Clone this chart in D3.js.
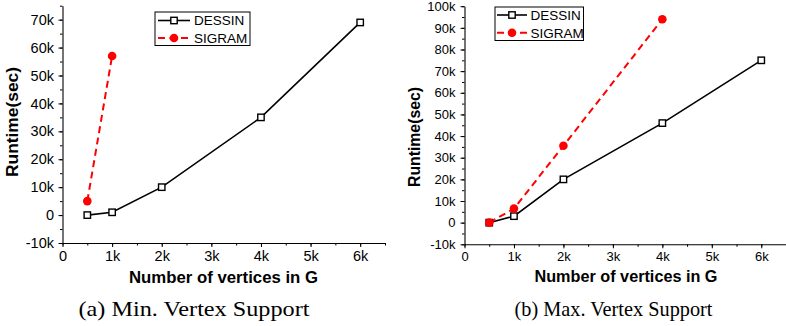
<!DOCTYPE html>
<html>
<head>
<meta charset="utf-8">
<script src="https://cdn.jsdelivr.net/npm/d3@7"></script>
<style>
  html, body { margin: 0; padding: 0; background: #fff; }
  svg { display: block; }
  text { font-family: "Liberation Sans", Arial, sans-serif; fill: #000; }
  .caption { font-family: "Liberation Serif", "Times New Roman", serif; }
</style>
</head>
<body>
<svg id="fig" width="786" height="326"></svg>
<script>
// Series names and axis labels
const seriesNames = ["DESSIN", "SIGRAM"];
const xTitle = "Number of vertices in G";
const yTitle = "Runtime(sec)";
const captions = ["(a) Min. Vertex Support", "(b) Max. Vertex Support"];

// x axis ticks (number of vertices)
const xTickValues = [0, 1000, 2000, 3000, 4000, 5000, 6000];
const xTickLabels = ["0", "1k", "2k", "3k", "4k", "5k", "6k"];

// (a) Min. Vertex Support
const dessinVerticesA = [500, 1000, 2000, 4000, 6000];
const dessinRuntimeA  = [0, 1000, 10000, 35000, 69000];
const sigramVerticesA = [500, 1000];
const sigramRuntimeA  = [5000, 57000];
const yTickValuesA = [-10000, 0, 10000, 20000, 30000, 40000, 50000, 60000, 70000];
const yTickLabelsA = ["-10k", "0", "10k", "20k", "30k", "40k", "50k", "60k", "70k"];

// (b) Max. Vertex Support
const dessinVerticesB = [500, 1000, 2000, 4000, 6000];
const dessinRuntimeB  = [0, 3000, 20000, 46000, 75000];
const sigramVerticesB = [500, 1000, 2000, 4000];
const sigramRuntimeB  = [0, 6500, 35500, 94000];
const yTickValuesB = [-10000, 0, 10000, 20000, 30000, 40000, 50000, 60000, 70000, 80000, 90000, 100000];
const yTickLabelsB = ["-10k", "0", "10k", "20k", "30k", "40k", "50k", "60k", "70k", "80k", "90k", "100k"];

const svg = d3.select("#fig");

function drawPanel(p) {
  const g = svg.append("g");
  const x = d3.scaleLinear().domain([0, 6500]).range([p.left, p.right]);
  const y = d3.scaleLinear().domain(p.yDomain).range([p.bottom, p.top]);

  const xMinor = d3.range(0, 6501, 500);
  const yMinor = d3.range(p.yDomain[0], p.yDomain[1] + 1, 5000);

  // minor ticks
  g.append("g").attr("transform", `translate(0,${p.bottom})`)
    .call(d3.axisBottom(x).tickValues(xMinor).tickSize(2.5).tickSizeOuter(0).tickFormat(""))
    .call(s => s.select(".domain").remove());
  g.append("g").attr("transform", `translate(${p.left},0)`)
    .call(d3.axisLeft(y).tickValues(yMinor).tickSize(2.5).tickSizeOuter(0).tickFormat(""))
    .call(s => s.select(".domain").remove());

  // major ticks with labels
  const xa = g.append("g").attr("transform", `translate(0,${p.bottom})`)
    .call(d3.axisBottom(x).tickValues(xTickValues).tickSize(4).tickSizeOuter(0)
      .tickFormat((d, i) => xTickLabels[i]));
  xa.attr("font-size", p.tickFont);
  xa.selectAll("text").attr("font-size", p.tickFont).attr("dy", null).attr("y", p.xLabelDy)
    .attr("font-family", "Liberation Sans").attr("fill", "#000");

  const ya = g.append("g").attr("transform", `translate(${p.left},0)`)
    .call(d3.axisLeft(y).tickValues(p.yTicks).tickSize(4).tickSizeOuter(0)
      .tickFormat((d, i) => p.yLabels[i]));
  ya.attr("font-size", p.tickFont);
  ya.selectAll("text").attr("font-size", p.tickFont).attr("x", -p.yLabelGap)
    .attr("font-family", "Liberation Sans").attr("fill", "#000");

  [xa, ya].forEach(a => {
    a.select(".domain").attr("stroke", "#000").attr("stroke-width", 1.1);
  });
  g.selectAll(".tick line").attr("stroke", "#000");

  // axis titles
  g.append("text")
    .attr("x", p.xTitleX - p.xTitleLen / 2).attr("y", p.xTitleY)
    .attr("font-size", 16).attr("font-weight", "bold")
    .attr("textLength", p.xTitleLen).attr("lengthAdjust", "spacingAndGlyphs")
    .text(xTitle);
  g.append("text")
    .attr("transform", `translate(${p.yTitleX},${p.yTitleY}) rotate(-90)`)
    .attr("x", -p.yTitleLen / 2).attr("y", 0)
    .attr("font-size", 16).attr("font-weight", "bold")
    .attr("textLength", p.yTitleLen).attr("lengthAdjust", "spacingAndGlyphs")
    .text(yTitle);

  // caption
  g.append("text").attr("class", "caption")
    .attr("x", p.capX - p.capLen / 2).attr("y", p.capY)
    .attr("font-size", 21)
    .attr("textLength", p.capLen).attr("lengthAdjust", "spacingAndGlyphs")
    .text(p.caption);

  const line = d3.line().x(d => x(d[0])).y(d => y(d[1]));

  // DESSIN: solid black with open squares
  const dData = p.dX.map((v, i) => [v, p.dY[i]]);
  g.append("path").datum(dData).attr("d", line)
    .attr("fill", "none").attr("stroke", "#000").attr("stroke-width", 1.6);
  g.selectAll(".sq").data(dData).enter().append("rect")
    .attr("x", d => x(d[0]) - 3.2).attr("y", d => y(d[1]) - 3.2)
    .attr("width", 6.4).attr("height", 6.4)
    .attr("fill", "#fff").attr("stroke", "#000").attr("stroke-width", 1.4);

  // SIGRAM: dashed red with filled circles
  const sData = p.sX.map((v, i) => [v, p.sY[i]]);
  g.append("path").datum(sData).attr("d", line)
    .attr("fill", "none").attr("stroke", "#ff0000").attr("stroke-width", 2)
    .attr("stroke-dasharray", "7,4.5");
  g.selectAll(".dot").data(sData).enter().append("circle")
    .attr("cx", d => x(d[0])).attr("cy", d => y(d[1])).attr("r", 4.3)
    .attr("fill", "#ff0000");

  // legend
  const L = p.legend;
  g.append("rect").attr("x", L.x0).attr("y", L.y0)
    .attr("width", L.x1 - L.x0).attr("height", L.y1 - L.y0)
    .attr("fill", "#fff").attr("stroke", "#000").attr("stroke-width", 1);
  // DESSIN entry
  g.append("line").attr("x1", L.lx0).attr("x2", L.lx1).attr("y1", L.r0).attr("y2", L.r0)
    .attr("stroke", "#000").attr("stroke-width", 1.6);
  g.append("rect").attr("x", (L.lx0 + L.lx1) / 2 - 3.2).attr("y", L.r0 - 3.2)
    .attr("width", 6.4).attr("height", 6.4)
    .attr("fill", "#fff").attr("stroke", "#000").attr("stroke-width", 1.4);
  g.append("text").attr("x", L.tx).attr("y", L.r0).attr("dy", "0.36em")
    .attr("font-size", L.font).text(seriesNames[0]);
  // SIGRAM entry
  g.append("line").attr("x1", L.lx0).attr("x2", L.lx1).attr("y1", L.r1).attr("y2", L.r1)
    .attr("stroke", "#ff0000").attr("stroke-width", 2).attr("stroke-dasharray", "7,4.5");
  g.append("circle").attr("cx", (L.lx0 + L.lx1) / 2).attr("cy", L.r1).attr("r", 4.3)
    .attr("fill", "#ff0000");
  g.append("text").attr("x", L.tx).attr("y", L.r1).attr("dy", "0.36em")
    .attr("font-size", L.font).text(seriesNames[1]);
}

drawPanel({
  left: 62.5, right: 385, top: 5.7, bottom: 243,
  yDomain: [-10000, 75000], yTicks: yTickValuesA, yLabels: yTickLabelsA,
  tickFont: 14.5, xLabelDy: 18, yLabelGap: 8.5,
  xTitleX: 223.5, xTitleY: 282.5, xTitleLen: 189,
  yTitleX: 18, yTitleY: 122, yTitleLen: 110,
  capX: 194, capY: 316, capLen: 231, caption: captions[0],
  dX: dessinVerticesA, dY: dessinRuntimeA, sX: sigramVerticesA, sY: sigramRuntimeA,
  legend: { x0: 155, x1: 250, y0: 12, y1: 45.5, lx0: 158, lx1: 190, tx: 194, r0: 20.5, r1: 38, font: 13.5 }
});

drawPanel({
  left: 464.5, right: 786, top: 6.2, bottom: 244.3,
  yDomain: [-10000, 100000], yTicks: yTickValuesB, yLabels: yTickLabelsB,
  tickFont: 13, xLabelDy: 16.5, yLabelGap: 9,
  xTitleX: 626, xTitleY: 282, xTitleLen: 183,
  yTitleX: 420, yTitleY: 137, yTitleLen: 100,
  capX: 613.5, capY: 316, capLen: 198, caption: captions[1],
  dX: dessinVerticesB, dY: dessinRuntimeB, sX: sigramVerticesB, sY: sigramRuntimeB,
  legend: { x0: 495, x1: 583.5, y0: 7, y1: 40.5, lx0: 497, lx1: 527, tx: 530.5, r0: 15, r1: 32.7, font: 13.5 }
});
</script>
</body>
</html>
